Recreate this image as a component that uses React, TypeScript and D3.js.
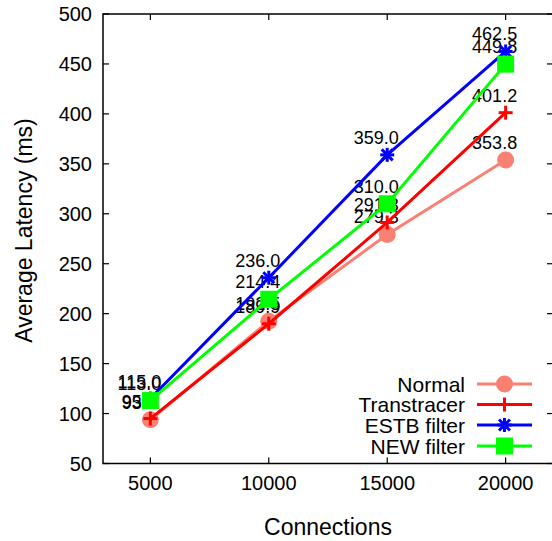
import React from "react";
import * as d3 from "d3";

const connections = [5000, 10000, 15000, 20000];
const normal = [93.8, 192.5, 279.3, 353.8];
const normalLabels = ["93.8", "192.5", "279.3", "353.8"];
const transtracer = [95.0, 189.9, 291.3, 401.2];
const transtracerLabels = ["95.0", "189.9", "291.3", "401.2"];
const estb = [115.0, 236.0, 359.0, 462.5];
const estbLabels = ["115.0", "236.0", "359.0", "462.5"];
const newFilter = [113.0, 214.4, 310.0, 449.8];
const newFilterLabels = ["113.0", "214.4", "310.0", "449.8"];
const seriesNames = ["Normal", "Transtracer", "ESTB filter", "NEW filter"];
const seriesColors = ["#fa8072", "#ff0000", "#0000ff", "#00ff00"];
const seriesMarkers = ["circle", "plus", "star", "square"];
const yTicks = [50, 100, 150, 200, 250, 300, 350, 400, 450, 500];
const xTicks = [5000, 10000, 15000, 20000];

const W = 552;
const H = 541;
const L = 103, R = 553, T = 14, B = 463.5;
const FONT = "'Liberation Sans', Arial, Helvetica, sans-serif";

function Marker({ type, x, y, color }: { type: string; x: number; y: number; color: string }) {
  if (type === "circle") return <circle cx={x} cy={y} r={8.5} fill={color} />;
  if (type === "square") return <rect x={x - 8.5} y={y - 8.5} width={17} height={17} fill={color} />;
  const s = 7;
  if (type === "plus")
    return (
      <g stroke={color} strokeWidth={3}>
        <line x1={x - s} y1={y} x2={x + s} y2={y} />
        <line x1={x} y1={y - s} x2={x} y2={y + s} />
      </g>
    );
  const d = 5.5;
  return (
    <g stroke={color} strokeWidth={3}>
      <line x1={x - s} y1={y} x2={x + s} y2={y} />
      <line x1={x} y1={y - s} x2={x} y2={y + s} />
      <line x1={x - d} y1={y - d} x2={x + d} y2={y + d} />
      <line x1={x - d} y1={y + d} x2={x + d} y2={y - d} />
    </g>
  );
}

export default function App() {
  const x = d3.scaleLinear().domain([3000, 22000]).range([L, R]);
  const y = d3.scaleLinear().domain([50, 500]).range([B, T]);
  const data = [normal, transtracer, estb, newFilter];
  const labels = [normalLabels, transtracerLabels, estbLabels, newFilterLabels];
  const line = d3
    .line<number>()
    .x((_, i) => x(connections[i]))
    .y((v) => y(v));

  const legendY = [384, 404.5, 425, 446];

  return (
    <svg width={W} height={H} style={{ position: "absolute", left: 0, top: 0, background: "#fff" }} fontFamily={FONT}>
      <rect x={0} y={0} width={W} height={H} fill="#fff" />
      {/* ticks */}
      <g stroke="#000" strokeWidth={1.2}>
        {yTicks.map((t) => (
          <g key={t}>
            <line x1={L} x2={L + 6} y1={y(t)} y2={y(t)} />
            <line x1={R} x2={R - 6} y1={y(t)} y2={y(t)} />
          </g>
        ))}
        {xTicks.map((t) => (
          <g key={t}>
            <line x1={x(t)} x2={x(t)} y1={B} y2={B - 6} />
            <line x1={x(t)} x2={x(t)} y1={T} y2={T + 6} />
          </g>
        ))}
      </g>
      <rect x={L} y={T} width={R - L} height={B - T} fill="none" stroke="#000" strokeWidth={1.5} />
      {/* tick labels */}
      <g fontSize={20} fill="#000">
        {yTicks.map((t) => (
          <text key={t} x={92} y={y(t) + 7} textAnchor="end">
            {t}
          </text>
        ))}
        {xTicks.map((t) => (
          <text key={t} x={x(t)} y={490} textAnchor="middle">
            {t}
          </text>
        ))}
      </g>
      <text x={(L + R) / 2} y={535} textAnchor="middle" fontSize={23}>
        Connections
      </text>
      <text transform={`translate(32,230.5) rotate(-90)`} textAnchor="middle" fontSize={23}>
        Average Latency (ms)
      </text>
      {/* data labels */}
      <g fontSize={18} fill="#000">
        {data.map((s, si) =>
          s.map((v, i) => (
            <text key={`${si}-${i}`} x={x(connections[i]) - 11} y={y(v) - 11} textAnchor="middle">
              {labels[si][i]}
            </text>
          ))
        )}
      </g>
      {/* series */}
      {data.map((s, si) => (
        <g key={si}>
          <path d={line(s) || ""} fill="none" stroke={seriesColors[si]} strokeWidth={3} />
          {s.map((v, i) => (
            <Marker key={i} type={seriesMarkers[si]} x={x(connections[i])} y={y(v)} color={seriesColors[si]} />
          ))}
        </g>
      ))}
      {/* legend */}
      {seriesNames.map((n, i) => (
        <g key={n}>
          <text x={465} y={legendY[i] + 7.5} textAnchor="end" fontSize={21}>
            {n}
          </text>
          <line x1={477} x2={532} y1={legendY[i]} y2={legendY[i]} stroke={seriesColors[i]} strokeWidth={3} />
          <Marker type={seriesMarkers[i]} x={504.5} y={legendY[i]} color={seriesColors[i]} />
        </g>
      ))}
    </svg>
  );
}
